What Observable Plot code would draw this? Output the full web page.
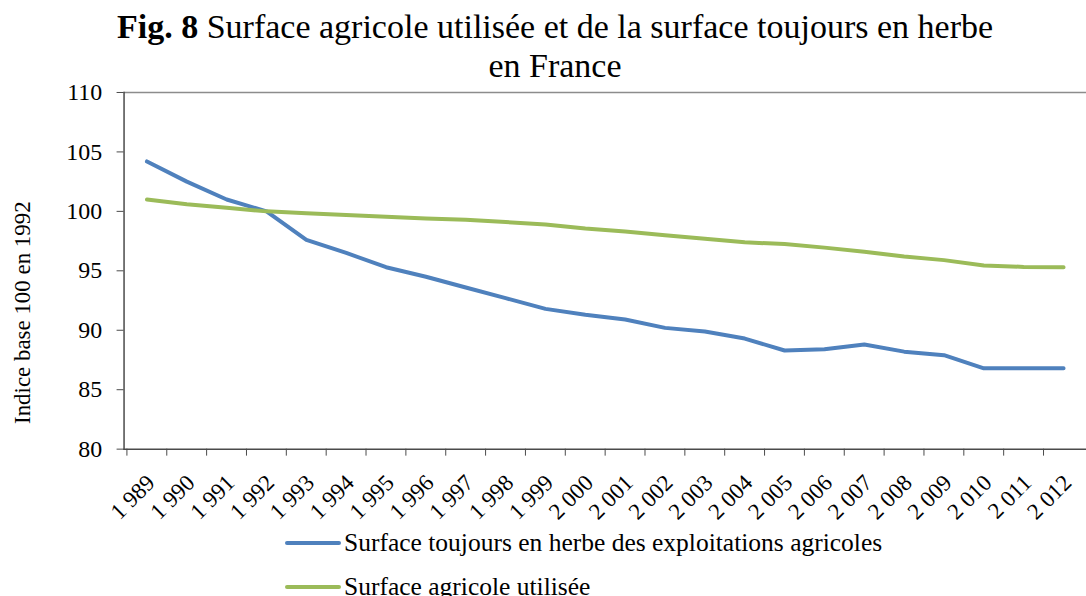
<!DOCTYPE html>
<html>
<head>
<meta charset="utf-8">
<script src="https://cdn.jsdelivr.net/npm/d3@7"></script>
<script src="https://cdn.jsdelivr.net/npm/@observablehq/plot@0.6"></script>
<style>
  html, body { margin: 0; padding: 0; background: #fff; overflow: hidden; width: 1086px; height: 596px; }
  body { font-family: "Liberation Serif", serif; color: #000; position: relative; }
  #title { position: absolute; left: 0; top: 7px; width: 1110px; text-align: center; font-size: 34px; line-height: 39px; }
  #chart { position: absolute; left: 0; top: 85px; }
  .leg { position: absolute; left: 285px; font-size: 25.5px; display: flex; align-items: center; white-space: nowrap; }
  .leg .sw { width: 56px; height: 4px; border-radius: 2px; margin-right: 3px; }
</style>
</head>
<body>
<div id="title"><b>Fig. 8</b> Surface agricole utilisée et de la surface toujours en herbe<br>en France</div>
<div id="chart"></div>
<div id="legend"></div>
<script>
const years = [1989, 1990, 1991, 1992, 1993, 1994, 1995, 1996, 1997, 1998, 1999, 2000,
               2001, 2002, 2003, 2004, 2005, 2006, 2007, 2008, 2009, 2010, 2011, 2012];
const herbe = [104.2, 102.5, 101.0, 100.0, 97.6, 96.5, 95.3, 94.5, 93.6, 92.7, 91.8, 91.3,
               90.9, 90.2, 89.9, 89.3, 88.3, 88.4, 88.8, 88.2, 87.9, 86.8, 86.8, 86.8];
const sau = [101.0, 100.6, 100.3, 100.0, 99.85, 99.7, 99.55, 99.4, 99.3, 99.1, 98.9, 98.55,
             98.3, 98.0, 97.7, 97.4, 97.25, 96.95, 96.6, 96.2, 95.9, 95.45, 95.33, 95.3];
const yTicks = [80, 85, 90, 95, 100, 105, 110];
const seriesNames = ["Surface toujours en herbe des exploitations agricoles", "Surface agricole utilisée"];
const seriesColors = ["#4F81BD", "#9BBB59"];
const yLabel = "Indice base 100 en 1992";

const data = [];
years.forEach((yr, i) => {
  data.push({year: yr, value: herbe[i], serie: seriesNames[0]});
  data.push({year: yr, value: sau[i], serie: seriesNames[1]});
});

const fr = d3.formatLocale({decimal: ",", thousands: " ", grouping: [3], currency: ["", " €"]});
const fmtYear = fr.format(",d");
const step = (1090 - 124) / years.length;

const chart = Plot.plot({
  width: 1090,
  height: 440,
  marginLeft: 124,
  marginRight: 0,
  marginTop: 7,
  marginBottom: 75,
  x: {type: "point", domain: years, padding: 0.5},
  y: {domain: [80, 110]},
  color: {domain: seriesNames, range: seriesColors},
  style: {fontFamily: "Liberation Serif", fontSize: "22px", color: "#000", background: "transparent", overflow: "visible"},
  marks: [
    Plot.ruleY([110], {stroke: "#8c8c8c", strokeWidth: 1.5}),
    Plot.frame({anchor: "left", stroke: "#4a4a4a", strokeWidth: 1.5}),
    Plot.frame({anchor: "bottom", stroke: "#4a4a4a", strokeWidth: 1.5}),
    Plot.axisY({ticks: yTicks, tickSize: 7, tickPadding: 15, label: null, stroke: "#4a4a4a", fill: "#000", fontSize: 24}),
    Plot.axisX({ticks: years, tickSize: 7, tickFormat: () => "", dx: -step / 2, label: null, stroke: "#4a4a4a"}),
    Plot.axisX({ticks: years, tickSize: 0, tickRotate: -45, tickPadding: 30, dx: 4, tickFormat: fmtYear, label: null, fill: "#000", fontSize: 23}),
    Plot.line(data, {x: "year", y: "value", z: "serie", stroke: "serie", strokeWidth: 4, strokeLinejoin: "round", strokeLinecap: "round"}),
    Plot.text([yLabel], {frameAnchor: "left", textAnchor: "middle", rotate: -90, dx: -102, dy: 42, fontSize: 23, fill: "#000"})
  ]
});
document.getElementById("chart").appendChild(chart);

const legend = document.getElementById("legend");
[543, 587].forEach((cy, i) => {
  const row = document.createElement("div");
  row.className = "leg";
  row.style.top = (cy - 15) + "px";
  row.style.height = "30px";
  const sw = document.createElement("div");
  sw.className = "sw";
  sw.style.background = seriesColors[i];
  const tx = document.createElement("span");
  tx.textContent = seriesNames[i];
  row.appendChild(sw);
  row.appendChild(tx);
  legend.appendChild(row);
});
</script>
</body>
</html>
